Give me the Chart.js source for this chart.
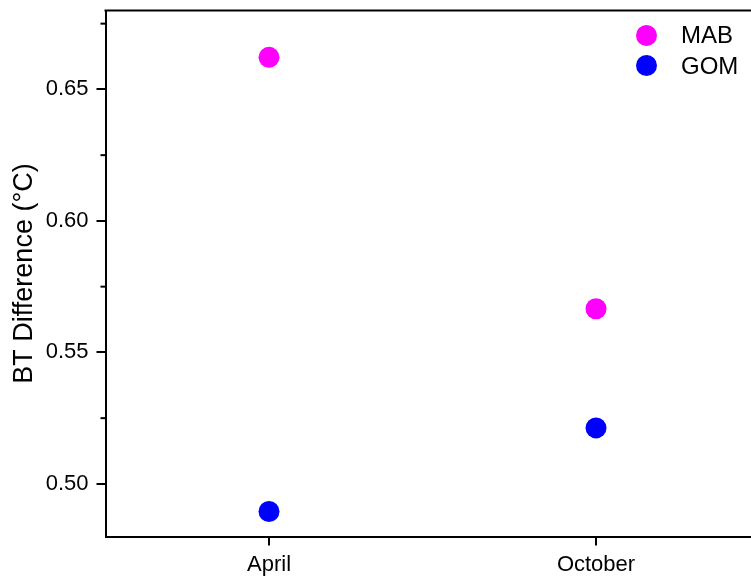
<!DOCTYPE html>
<html>
<head>
<meta charset="utf-8">
<script src="https://cdn.jsdelivr.net/npm/chart.js@4.4.1/dist/chart.umd.min.js"></script>
<style>
  html, body { margin: 0; padding: 0; background: #fff; overflow: hidden; }
  #wrap { position: relative; width: 751px; height: 578px; overflow: hidden; }
  #c { position: absolute; left: 0; top: 0; }
  #legend { position: absolute; left: 636px; top: 0; font-family: "Liberation Sans", Arial, sans-serif; font-size: 24px; color: #000; }
  .item { position: absolute; left: 0; height: 30px; display: flex; align-items: center; white-space: nowrap; }
  .dot { width: 21px; height: 21px; border-radius: 50%; display: inline-block; margin-right: 24px; }
</style>
</head>
<body>
<div id="wrap">
  <canvas id="c" width="1100" height="578"></canvas>
  <div id="legend"></div>
</div>
<script>
const categories = ['April', 'October'];
const seriesNames = ['MAB', 'GOM'];
const mabValues = [0.6622, 0.5666];
const gomValues = [0.4895, 0.5213];
const yTickValues = [0.50, 0.55, 0.60, 0.65];
const yMinorTickValues = [0.475, 0.525, 0.575, 0.625, 0.675];
const seriesColors = ['#FF00FF', '#0000FF'];

const FONT = '"Liberation Sans", Arial, sans-serif';
const toPoints = vals => vals.map((v, i) => ({ x: i, y: v }));

const frame = {
  id: 'frame',
  afterDraw(chart) {
    const { ctx, chartArea: a } = chart;
    const y = chart.scales.y;
    ctx.save();
    ctx.strokeStyle = '#000';
    ctx.lineWidth = 2;
    ctx.beginPath();
    ctx.moveTo(a.left - 1, a.top);
    ctx.lineTo(a.right, a.top);
    ctx.stroke();
    yMinorTickValues.forEach(v => {
      if (v < y.min || v > y.max) return;
      const py = y.getPixelForValue(v);
      ctx.beginPath();
      ctx.moveTo(a.left - 5, py);
      ctx.lineTo(a.left, py);
      ctx.stroke();
    });
    ctx.restore();
  }
};

const chart = new Chart(document.getElementById('c'), {
  type: 'scatter',
  data: {
    datasets: [
      { label: seriesNames[0], data: toPoints(mabValues), pointRadius: 10.5, pointHoverRadius: 10.5,
        pointBackgroundColor: seriesColors[0], pointBorderWidth: 0, borderColor: seriesColors[0], backgroundColor: seriesColors[0] },
      { label: seriesNames[1], data: toPoints(gomValues), pointRadius: 10.5, pointHoverRadius: 10.5,
        pointBackgroundColor: seriesColors[1], pointBorderWidth: 0, borderColor: seriesColors[1], backgroundColor: seriesColors[1] }
    ]
  },
  options: {
    responsive: false,
    animation: false,
    events: [],
    devicePixelRatio: 1,
    layout: { padding: { top: 8.5, right: 10.5, left: 0, bottom: 0 } },
    plugins: { legend: { display: false }, tooltip: { enabled: false } },
    scales: {
      x: {
        type: 'linear',
        min: -0.5,
        max: 2.509,
        afterBuildTicks(s) { s.ticks = categories.map((c, i) => ({ value: i })); },
        grid: { drawOnChartArea: false, tickLength: 9, tickColor: '#000', lineWidth: 2 },
        border: { display: true, color: '#000', width: 2 },
        ticks: { color: '#000', font: { family: FONT, size: 22 }, padding: 6, maxRotation: 0, autoSkip: false,
                 callback: v => (categories[v] !== undefined ? categories[v] : '') },
        afterFit(s) { s.height = 41.5; s.paddingLeft = 0; s.paddingRight = 0; }
      },
      y: {
        min: 0.48,
        max: 0.68,
        afterBuildTicks(s) { s.ticks = yTickValues.map(v => ({ value: v })); },
        grid: { drawOnChartArea: false, tickLength: 9, tickColor: '#000', lineWidth: 2 },
        border: { display: true, color: '#000', width: 2 },
        ticks: { color: '#000', font: { family: FONT, size: 22 }, padding: 8, callback: v => Number(v).toFixed(2) },
        title: { display: true, text: 'BT Difference (°C)', color: '#000', font: { family: FONT, size: 27 }, padding: { top: 8, bottom: 0 } },
        afterFit(s) { s.width = 105.5; s.paddingTop = 0; s.paddingBottom = 0; }
      }
    }
  },
  plugins: [frame]
});

const legend = document.getElementById('legend');
seriesNames.forEach((name, i) => {
  const item = document.createElement('div');
  item.className = 'item';
  item.style.top = (20 + i * 30.7) + 'px';
  const dot = document.createElement('span');
  dot.className = 'dot';
  dot.style.background = seriesColors[i];
  const txt = document.createElement('span');
  txt.textContent = name;
  item.appendChild(dot);
  item.appendChild(txt);
  legend.appendChild(item);
});
</script>
</body>
</html>
